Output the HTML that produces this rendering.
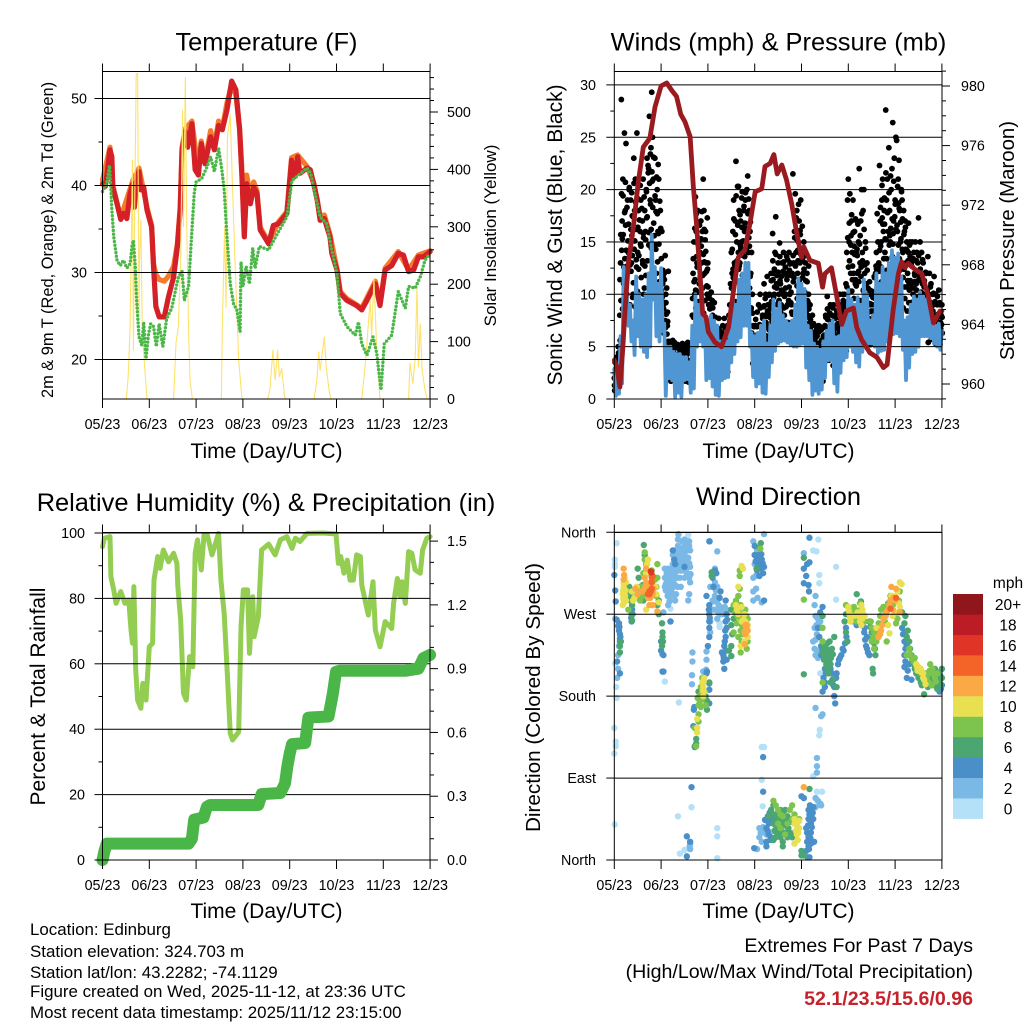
<!DOCTYPE html>
<html lang="en">
<head>
<meta charset="utf-8">
<title>Station meteogram</title>
<style>
html,body{margin:0;padding:0;background:#fff;}
svg{display:block;font-family:"Liberation Sans",Arial,sans-serif;fill:#000;}
.t{font-size:25.4px;text-anchor:middle;}
.a{font-size:21px;text-anchor:middle;}
.s{font-size:16.4px;text-anchor:middle;}
.k{font-size:14.3px;}
.i{font-size:16.9px;}
.r{font-size:19.6px;text-anchor:end;}
</style>
</head>
<body>
<svg id="chart" width="1024" height="1024" viewBox="0 0 1024 1024" xmlns="http://www.w3.org/2000/svg">
<rect x="0" y="0" width="1024" height="1024" fill="#fff"/>

<text class="t" x="266.5" y="50.5">Temperature (F)</text>
<text class="t" x="778.5" y="50.5">Winds (mph) &amp; Pressure (mb)</text>
<text class="t" x="266" y="511">Relative Humidity (%) &amp; Precipitation (in)</text>
<text class="t" x="778.5" y="505">Wind Direction</text>

<g id="p1"></g>
<g id="p2"></g>
<g id="p3"></g>
<g id="p4"></g>

<text class="a" x="266.5" y="458">Time (Day/UTC)</text>
<text class="a" x="778.5" y="458">Time (Day/UTC)</text>
<text class="a" x="266.5" y="918">Time (Day/UTC)</text>
<text class="a" x="778.5" y="918">Time (Day/UTC)</text>

<text class="s" transform="translate(53 240) rotate(-90)">2m &amp; 9m T (Red, Orange) &amp; 2m Td (Green)</text>
<text class="s" style="font-size:17px" transform="translate(496 235.5) rotate(-90)">Solar Insolation (Yellow)</text>
<text class="a" transform="translate(562 235) rotate(-90)">Sonic Wind &amp; Gust (Blue, Black)</text>
<text class="a" style="font-size:20.4px" transform="translate(1014 240.5) rotate(-90)">Station Pressure (Maroon)</text>
<text class="a" transform="translate(45 696.5) rotate(-90)">Percent &amp; Total Rainfall</text>
<text class="a" style="font-size:20.7px" transform="translate(540 697.5) rotate(-90)">Direction (Colored By Speed)</text>

<g id="colorbar">
<text x="1008" y="588" font-size="15.5" text-anchor="middle">mph</text>
</g>

<g>
<text class="i" x="30" y="935">Location: Edinburg</text>
<text class="i" x="30" y="957">Station elevation: 324.703 m</text>
<text class="i" x="30" y="978">Station lat/lon: 43.2282; -74.1129</text>
<text class="i" x="30" y="997">Figure created on Wed, 2025-11-12, at 23:36 UTC</text>
<text class="i" x="30" y="1018">Most recent data timestamp: 2025/11/12 23:15:00</text>
</g>
<g>
<text class="r" x="973" y="952">Extremes For Past 7 Days</text>
<text class="r" x="973" y="978">(High/Low/Max Wind/Total Precipitation)</text>
<text class="r" x="973" y="1005" font-weight="bold" style="fill:#c4232b">52.1/23.5/15.6/0.96</text>
</g>
</svg>

<script>
// ---------- shared tick labels ----------
var dateLabels = ['05/23','06/23','07/23','08/23','09/23','10/23','11/23','12/23'];

// ---------- temperature panel ----------
var tempTicks = [50,40,30,20];
var tempMinorTicks = [45,35,25];
var solarTicks = [0,100,200,300,400,500];
var redTimes = [0,.06,.09,.16,.2,.22,.31,.39,.45,.52,.59,.65,.68,.73,.78,.82,.88,.95,1.05,1.09,1.14,1.21,1.32,1.41,1.52,1.6,1.66,1.7,1.77,1.82,1.91,1.98,2.05,2.11,2.19,2.31,2.39,2.48,2.56,2.66,2.76,2.85,2.93,2.98,3.03,3.08,3.16,3.23,3.3,3.37,3.55,3.65,3.76,3.94,4.04,4.1,4.17,4.22,4.37,4.44,4.52,4.59,4.65,4.74,4.86,4.9,5.01,5.08,5.22,5.43,5.54,5.65,5.83,5.93,6.04,6.18,6.32,6.43,6.54,6.65,6.75,6.86,7];
var redValues = [40.2,39.9,41,44.1,43.3,39.8,37.9,36.1,36.8,36.2,39.1,40.2,37.5,40.6,41.6,39.5,39.8,37.2,35.2,30.7,26.1,24.9,24.9,27.2,29.5,33,37.2,44.1,46.2,44.4,47.1,41.8,41.2,44.8,42.5,45.6,44.1,46.9,46.4,48.7,52,51,46.4,41,34.1,40.2,37.9,39.8,39.1,34.9,33.3,35.4,35.6,36.8,42.9,41,43.3,41.4,42,41.8,40,38.3,36,36.2,34.1,32.2,30.3,27.6,26.8,26.2,25.7,26.8,28.7,26.2,30.3,30.8,32.2,32,30.1,30.3,31.8,31.8,32.4];
var orangeTimes = [0,.16,.22,.39,.65,.78,.95,1.05,1.09,1.14,1.21,1.32,1.41,1.52,1.6,1.66,1.7,1.77,1.91,2.05,2.11,2.19,2.31,2.39,2.48,2.56,2.66,2.76,2.85,2.93,2.98,3.03,3.08,3.16,3.23,3.3,3.37,3.55,3.76,3.94,4.04,4.17,4.37,4.52,4.65,4.74,4.86,5.01,5.08,5.22,5.54,5.83,5.93,6.04,6.32,6.54,6.75,7];
var orangeValues = [40.6,44.4,40,36.3,40.6,42,37.5,35.4,31,29.8,29.2,29,29.6,30.7,33.3,37.5,44.4,46.5,47.4,41.5,45.1,42.8,46.3,44.4,47.4,46.6,49.5,51.6,50.4,46.6,41.6,34.6,41.2,38.8,40.4,39.4,35.2,33.5,35.8,37,43.2,43.5,42.2,40.2,36.5,36.6,34.4,30.4,27.8,27,25.9,29,26.4,30.5,32.4,30.3,32,32.5];
var dewTimes = [0,.09,.15,.18,.2,.24,.31,.38,.45,.52,.59,.63,.66,.7,.73,.78,.84,.88,.93,.98,1.03,1.09,1.15,1.21,1.29,1.37,1.48,1.62,1.7,1.75,1.84,1.89,1.96,2,2.12,2.23,2.31,2.39,2.48,2.55,2.6,2.66,2.73,2.8,2.87,2.94,2.96,3,3.07,3.14,3.21,3.26,3.35,3.55,3.72,3.94,4.05,4.19,4.37,4.45,4.54,4.65,4.79,4.9,5.01,5.08,5.22,5.4,5.47,5.54,5.65,5.78,5.86,5.95,6.02,6.18,6.32,6.47,6.54,6.68,6.79,6.89,7];
var dewValues = [39.3,40.2,42.3,39.5,37.2,34.1,31.4,30.8,31.4,30.5,31,33,33.7,30.7,26.8,22.6,21.6,24.3,20.1,22.8,24.1,23.8,21.5,24.1,21.5,24.7,25.9,29.5,30.1,26.8,28.4,33,39.1,40.4,40.8,42.1,43.3,41.6,44.3,41.8,39.5,34.1,28.7,26.4,25.7,23.2,31.2,28.4,30.7,28.7,32.8,30.5,33,32.6,34.3,36.4,40.6,41.2,42,41.4,39.1,36.4,35.6,32.6,29.9,25.3,23.8,22.8,24.3,21.8,20.5,22.6,20.7,16.5,21.8,22.8,27.8,25.9,28.4,28.2,29.5,31.4,32.2];
var solarTimes = [0,.51,.55,.59,.62,.64,.66,.69,.72,.75,.78,.79,.82,.85,.88,.95,1.52,1.57,1.62,1.67,1.71,1.73,1.77,1.8,1.84,1.87,1.92,2.54,2.56,2.61,2.64,2.67,2.73,2.76,2.83,2.91,2.98,3.53,3.58,3.64,3.69,3.74,3.78,3.83,3.89,3.92,4.52,4.58,4.62,4.65,4.74,4.78,4.84,4.88,5.54,5.63,5.68,5.72,5.75,5.8,5.86,5.93,6.54,6.57,6.63,6.68,6.72,6.75,6.79,6.83,6.89,6.94,7];
var solarValues = [0,0,40,126,300,416,85,350,567,567,150,240,312,120,80,0,0,97,126,242,503,300,560,300,114,33,0,0,126,300,160,457,495,416,242,68,0,0,18,85,33,85,39,53,4,0,0,33,82,50,108,56,16,0,0,74,131,172,108,210,85,0,0,62,27,68,196,56,131,50,16,0,0];

// ---------- winds panel ----------
var windTicks = [0,5,10,15,20,25,30];
var windMinorTicks = [2.5,7.5,12.5,17.5,22.5,27.5];
var pressureTicks = [960,964,968,972,976,980];
var pressureMinorTicks = [959,961,962,963,965,966,967,969,970,971,973,974,975,977,978,979,981];
// sonic wind, sampled every 1/30 day
var sonicValues = [2.8,.3,2.5,.5,6,1.5,12.6,8,10,7,
9,5.5,7.5,4.2,11.7,6,10,5,9.5,4.5,
10,4,12,5,15.7,9.5,12.6,6,11,5.5,
12.5,6.5,7.2,.3,5,2,5,1.8,4.5,.2,
4.3,.6,4.3,.2,4,1.8,4,1.9,3.5,.6,
7,1,10,5,9,5.5,10.7,5,8,1.8,
7.5,2,8,1.2,7.5,.4,7,.3,5.5,1.8,
5.5,2,5.5,2.1,7,3.5,9.5,4.3,9,5.5,
11.4,5.9,12,7,13,7,13,5,6.3,2.1,
6,1.2,6.3,1.5,7,.6,7.5,.5,5.3,2.1,
7,3.5,9.5,4.6,8.5,5.3,9.2,5.5,8,5.6,
7.5,5.4,7.2,5.2,7.5,5,9,5,11.5,5.2,
11,5.3,10.5,3,7,1.8,6.5,.4,5.3,.8,
5,.5,4.7,.9,5.5,2,6.5,3.7,7.2,3.7,
7.5,1.5,5.9,.7,6,2.5,7,3.7,8,4,
10.4,5,9.5,4.5,9,3.5,9.7,3.1,9,4.5,
11.4,5,10,5.3,7.5,5.3,8,5,12,4.4,
11,4.6,12.6,4.7,12,5.5,13,6,14.2,6.2,
13.5,6.3,13.9,6,11.7,4.7,7.5,1.8,7.8,3,
9,4.3,9.8,4.5,9.5,5,10.2,6,9.8,6,
9.5,6,8.5,5.8,7.2,5.3,7,5,7.2,4.7,
6.5];
// gusts, sampled every 1/60 day
var gustValues = [2,3.5,1.5,4,3,5,2.5,8,13,28.6,
17,21,11,25.4,18,24.4,10,19,14,20,
9,19,13,17.5,10,23,18,21,9,25.4,
14,18,10,16,19,8,17,21,10,18,
16,20,23,9,22,27,19,24,29.3,25,
21,10,23,19,12,20,16,21,9,18,
12,16,11,9,12,7.5,10,5,7,5.5,
4,5.5,3,5,4,5.6,3.5,5,4,5.2,
3,5,2.5,4.8,3.5,5,3,4.6,4,5.2,
3,5,3.5,4.8,3,5,2.5,4.4,3.5,5,
8,12,15,10,19.3,16,13,18,15,11,
14,17,13,16,21,18,12,16,13,10,
13,9,10,7,9,6,8,5,7,4,
6,3.5,5,3,7.7,4,6,3,5,7,
4,7.7,3.5,6,4,7,5,8,9,11,
14,12,16,19,13,17,22.7,15,20.3,14,
18,13,17,15,19.8,14,18,16,19,15,
20,21.3,14,18,16,12,14,10,7,5.5,
5,7,4,6.9,5,9,6,10,7,5,
8,6,11,8,10,7,11.7,9,6,10,
8,12,9,15.8,12,10,14,17.4,11,9,
13,10,14.9,11,9,13,10,14,8,12,
10,13.6,9,12,14,10,13,9,12,21.5,
13,16,19.6,14,18,12,15,17,13,19,
14,16.5,12,15,10,13,9,12,8,10,
6,9,7,5,8,6,4,7,5,3,
6,4,7,3,6.9,5,3,5,6,4,
7,8,5,9.8,6,8,5,9,6,8,
5,9,6,8,4,7,6,9,5,10,
6,9,7,10,6,10,8,11,14,19,
21,15,19.6,12,17,14,19,12,16,11,
14,17,12,15,22,13,17,20,14,18,
20,12,15,11,13,9,10,7,9,10,
7,9,6,8,10,12,14,17.7,15,13,
22.3,17,15,19,21,16,18,14,27.6,19,
21,16,24,18,15,20,22,26.4,17,23,
19,25,24.7,16,21,22.8,18,15,20,19,
14,18,16,17,13,15,12,14,11,15,
11,13,15,10,14,12,15,11,14,13,
17.3,12,15,10,14,11,13,9,12,10,
12,9,13.6,10,12,9,11,8,10,9,
11.7,8,10,7,9,8,10.4,7,9,8,
9];
// second set of gust readings, same 1/60 day spacing, offset by half a step
var gustBackfillValues = [.8,2.4,1.2,3.2,.6,4.4,1.8,5.6,9.4,14.2,
8.6,15.7,11.3,13.4,16.6,9.2,12.7,15.1,8.3,13.8,
7.4,12.2,15.6,9.7,11.1,14.3,8.8,16.2,12.6,10.3,
7.9,13.7,9.1,14.8,11.6,8.2,12.9,15.4,10.6,7.7,
11.8,17.3,13.2,21.6,15.9,10.7,18.6,14.4,20.8,12.3,
16.8,9.6,14.7,17.9,8.4,13.1,15.8,11.2,9.3,16.3,
10.4,7.2,11.7,6.3,9.2,6.8,8.1,6.2,7.4,5.2,
2.6,4.7,1.7,3.8,2.9,4.3,1.9,4.9,3.3,2.2,
4.1,2.7,3.6,1.6,4.4,2.4,3.9,1.8,4.6,2.9,
3.4,1.7,4.2,2.8,3.7,1.6,4.5,2.3,3.1,1.9,
4.3,7.8,5.6,11.4,8.7,13.6,6.4,10.2,12.7,7.1,
9.3,14.6,6.7,11.8,8.2,13.1,15.2,7.6,10.8,12.4,
9.7,5.4,8.6,4.3,7.3,9.4,5.8,6.7,4.4,7.8,
3.3,5.7,2.4,6.2,3.8,4.9,2.2,6.4,3.1,5.3,
2.7,6.1,4.2,3.3,5.6,2.6,6.3,3.7,4.8,6.6,
8.4,6.3,11.6,7.7,12.8,9.3,6.8,11.2,8.6,12.4,
7.6,14.7,10.3,16.4,8.9,13.7,11.4,16.8,9.6,14.2,
12.3,7.8,15.4,10.6,16.9,8.7,6.2,3.4,5.3,4.2,
3.2,5.4,3.7,4.6,5.8,3.4,4.9,5.2,3.8,4.4,
6.2,8.8,5.4,9.6,7.3,5.7,8.4,9.9,6.6,7.8,
5.6,9.3,7.2,11.4,6.3,10.7,8.1,5.4,11.8,7.6,
9.2,5.8,11.3,7.4,10.4,6.2,12.2,8.7,5.7,10.6,
7.3,11.7,5.6,9.4,12.3,6.7,10.2,8.3,5.4,11.2,
8.2,12.8,7.4,15.3,9.6,13.2,7.8,11.4,15.7,10.3,
8.4,11.6,6.7,10.2,7.7,11.3,6.2,9.4,7.2,8.6,
5.2,7.6,3.3,6.4,2.4,7.2,4.3,5.8,2.7,6.6,
3.4,5.3,1.8,4.7,2.6,5.6,3.2,1.7,4.2,5.4,
3.6,6.8,4.4,7.6,5.3,3.7,6.2,7.4,4.6,5.7,
3.2,6.6,7.8,4.3,5.4,3.6,7.2,4.8,6.3,7.7,
4.7,8.3,6.2,9.4,5.3,7.8,9.2,4.6,8.6,6.7,
9.4,13.2,7.4,15.6,10.3,12.7,8.2,14.6,7.6,11.4,
6.3,13.7,8.4,11.2,14.8,7.3,12.6,9.4,6.7,10.3,
5.7,8.6,10.7,6.3,9.2,5.4,7.7,10.4,5.2,8.4,
6.6,9.7,5.3,11.6,7.8,12.7,8.6,10.3,6.4,12.2,
8.7,14.6,11.2,17.3,9.8,13.4,16.7,10.6,15.2,12.3,
17.8,9.4,14.7,11.3,16.3,8.6,13.6,15.8,10.2,17.4,
12.7,9.3,16.6,11.8,18.7,13.4,9.7,15.3,11.6,17.2,
8.7,12.4,9.6,14.3,10.7,8.4,13.2,9.2,14.7,11.3,
7.8,10.6,6.4,9.3,11.2,6.8,8.7,10.4,7.3,9.6,
6.4,11.7,8.3,10.2,6.7,9.4,7.6,11.3,6.2,8.8,
7.2,9.7,5.4,8.6,6.3,9.2,5.7,7.8,8.4,6.2,
7.4,5.3,6.8,7.7,5.6,6.2,7.3,5.2,6.7,7.1,
6.3];
// third set of gust readings, same spacing, offset by a quarter step
var gustUpperValues = [1.3,2.8,1.7,3.6,2.4,3.9,2.1,11.4,15.7,19.6,
15.3,19.4,12.6,17.8,20.7,14.2,18.3,13.4,16.7,20.2,
12.8,16.2,19.7,13.7,17.4,20.6,15.1,18.8,13.3,19.2,
16.4,12.4,17.1,20.4,14.6,18.2,13.2,15.8,19.3,12.7,
15.2,19.8,17.4,22.3,14.7,20.6,23.4,16.2,21.7,18.3,
23.1,15.6,19.4,14.3,21.2,17.7,22.4,14.8,18.9,16.1,
13.4,9.7,12.3,8.6,11.4,13.7,9.2,10.6,8.3,12.2,
4.2,5.3,3.4,4.7,5.1,3.6,4.4,5.4,3.2,4.9,
3.8,5.2,4.3,3.3,5,3.7,4.6,5.3,3.9,4.1,
5.2,3.4,4.8,3.6,5.4,4.4,3.1,4.9,3.7,5.1,
9.6,13.4,11.2,16.3,10.4,17.7,12.6,14.8,9.3,16.6,
11.7,15.3,17.9,10.6,13.8,16.2,9.4,14.1,12.2,17.3,
10.7,7.4,9.6,6.3,10.2,7.8,8.7,6.6,9.2,6.2,
4.6,6.3,3.7,5.2,6.7,4.1,5.6,3.8,6.1,4.8,
5.4,3.6,6.8,4.7,3.9,6.4,5.1,6.9,4.3,5.8,
10.6,14.3,12.4,17.2,11.3,15.7,19.4,13.2,16.6,20.3,
12.7,17.6,14.4,19.2,11.8,15.1,18.4,13.6,19.7,16.3,
12.2,17.7,19.1,14.6,11.7,8.6,6.3,8.2,5.7,6.9,
4.7,7.6,5.4,8.3,6.2,4.4,7.1,8.7,5.6,6.8,
7.7,4.8,8.9,6.1,5.2,7.9,4.6,8.2,6.7,5.3,
8.6,11.3,7.4,13.2,9.7,12.4,8.2,13.8,10.6,7.7,
12.1,9.4,13.6,8.3,11.7,7.6,10.2,13.1,9.8,12.6,
8.8,11.4,13.3,7.3,10.7,12.9,9.2,11.8,8.1,13.7,
11.6,15.4,12.7,17.3,10.8,14.2,18.6,11.3,16.1,13.8,
9.6,13.3,8.7,12.4,10.2,13.7,8.4,11.2,9.3,12.7,
4.3,6.7,3.6,5.8,7.1,4.7,6.2,3.3,5.4,6.9,
3.7,5.2,6.4,4.1,3.2,6.6,4.8,5.7,3.4,6.1,
4.6,7.8,5.7,8.6,4.3,6.9,8.2,5.2,7.3,4.9,
8.7,6.4,4.4,7.7,5.6,8.4,4.8,6.7,8.9,5.3,
7.2,8.6,4.6,6.3,8.8,5.7,7.6,9.2,10.7,15.4,
12.6,16.8,10.3,14.7,17.6,11.4,15.9,9.6,13.8,17.2,
10.8,14.3,16.7,12.2,9.4,15.6,11.7,17.7,13.2,10.4,
16.2,12.8,14.4,9.7,12.3,10.6,8.3,11.2,9.1,7.6,
10.3,6.8,8.4,11.7,9.6,7.3,12.4,10.2,8.7,6.6,
14.2,18.3,12.6,20.4,16.7,11.8,19.2,15.3,21.6,13.4,
17.8,12.2,19.7,15.6,21.3,11.6,17.2,14.8,20.8,13.1,
18.6,16.2,11.4,20.3,14.7,18.2,12.3,16.9,19.8,14.3,
11.6,15.7,10.7,16.4,12.8,14.2,11.3,16.8,10.4,13.6,
9.2,12.7,8.4,13.4,10.6,11.8,8.8,13.2,9.7,11.3,
13.7,9.4,12.4,8.6,11.2,13.3,9.8,10.7,8.2,12.1,
7.6,10.3,6.7,9.4,8.2,10.7,6.3,8.9,7.4,10.1,
6.6,9.3,7.7,6.2,9.8,8.1,6.9,9.2,7.3,6.4,
7.8];
var pressureTimes = [0,.05,.12,.18,.23,.3,.41,.51,.62,.76,.87,1,1.12,1.23,1.33,1.42,1.51,1.62,1.69,1.76,1.83,1.89,1.96,2.01,2.15,2.29,2.44,2.54,2.65,2.79,2.9,3.01,3.15,3.22,3.33,3.41,3.48,3.58,3.68,3.79,3.9,4,4.05,4.18,4.36,4.45,4.5,4.64,4.74,4.86,4.96,5.11,5.18,5.28,5.46,5.61,5.75,5.83,5.96,6.07,6.14,6.21,6.28,6.42,6.57,6.71,6.82,6.96,7];
var pressureValues = [961.6,961.2,959.8,962.3,965,968.1,970.6,973.5,975.9,976.5,978.6,980,980.2,979.7,979.3,978.1,977.6,976.6,973.2,970.6,967.4,964.7,964.5,963.5,962.8,962.5,963.8,966.1,968.5,969,970.8,972.9,973.1,974.6,974.8,975.4,974.1,974.7,973.7,972.1,970.1,968.5,969.2,968.3,968.1,966.5,967.4,967.8,966.1,964,964.9,965.1,963.8,963,962.1,961.8,961.1,961.3,965,967.4,968.2,967.8,968.1,967.7,967.4,965.9,964.1,964.9,964.9];

// ---------- humidity panel ----------
var humidityTicks = [0,20,40,60,80,100];
var humidityMinorTicks = [10,30,50,70,90];
var rainTicks = [0,.3,.6,.9,1.2,1.5];
var rainMinorTicks = [.1,.2,.4,.5,.7,.8,1,1.1,1.3,1.4];
var humidityTimes = [0,.04,.16,.18,.24,.29,.39,.48,.56,.61,.64,.67,.71,.75,.82,.86,.93,1,1.07,1.1,1.18,1.23,1.3,1.41,1.52,1.59,1.61,1.67,1.73,1.79,1.86,1.93,1.98,2.03,2.11,2.17,2.24,2.34,2.48,2.53,2.6,2.67,2.73,2.78,2.91,2.96,3.01,3.1,3.14,3.21,3.24,3.33,3.4,3.55,3.69,3.8,3.94,4.05,4.12,4.22,4.37,4.72,4.99,5.04,5.09,5.16,5.23,5.29,5.36,5.43,5.51,5.54,5.61,5.68,5.78,5.83,5.93,6.04,6.18,6.22,6.3,6.36,6.4,6.47,6.54,6.61,6.68,6.79,6.84,6.93,7];
var humidityValues = [95.8,98.4,98.9,86.6,82.6,78.5,82.1,78.5,79.5,70.3,66.3,83.6,58.1,48.9,46.4,54,48.9,65.2,66.3,85.6,92.8,89.2,94.8,91.2,93.8,90.7,83.6,73.4,51,48.9,62.2,59.1,93.8,97.9,88.7,99.4,99.4,93.3,99.9,85.6,75.4,56.1,38.7,36.7,39.2,71.4,82.6,82.6,63.2,80.5,68.3,74.4,94.8,96.6,93.3,97.9,98.9,95.3,98.4,97.4,99.9,100,99.7,90.7,92.8,87.7,91.7,85.6,85.6,93.3,92.8,84.1,79.5,74.9,85.1,70.3,65.2,72.9,70.8,78.5,86.1,80.5,85.1,78.5,94.3,93.8,88.7,87.7,94.8,98.4,98.9];
var rainTimes = [0,.04,.09,1.84,1.91,1.96,2.16,2.23,2.3,3.33,3.4,3.8,3.9,3.95,4,4.05,4.33,4.4,4.83,4.92,4.99,5.06,6.47,6.75,6.86,7];
var rainValues = [0,.04,.077,.077,.1,.19,.2,.25,.259,.259,.31,.315,.36,.44,.5,.545,.55,.67,.675,.78,.885,.89,.89,.9,.95,.965];

// ---------- direction panel ----------
var directionLabels = ['North','West','South','East','North'];
var directionTicks = [360,270,180,90,0];
var speedLabels = ['0','2','4','6','8','10','12','14','16','18','20+'];
var speedColors = ['#b4e1f8','#7ab8e5','#4a8fc8','#4ba672','#7cc44e','#e8e050','#faa945','#f46428','#e03427','#bb1c26','#8f161a'];
var dirSpeed0 = [[.05,348],[.01,330],[.01,322],[.01,325],[.02,216],[.04,190],[.05,178],[0,145],[.03,130],[.03,125],[0,117],[.01,39],[1.08,196],[1.2,276],[1.37,356],[1.58,357],[1.38,173],[1.36,48],[1.65,58],[1.4,7],[1.5,11],[2.2,35],[2.2,26],[2.2,2],[2.25,256],[2.25,260],[3.2,124],[3.15,124],[3.15,88],[3.17,59],[4.36,352],[4.32,339],[4.25,340],[4.38,313],[4.38,304],[4.74,286],[4.74,322],[4.4,205],[4.39,143],[4.38,137],[4.25,92],[4.33,75],[4.44,75]];
var dirSpeed2 = [[1.08,300],[1.08,310],[1.08,320],[1.1,296],[1.12,305],[1.12,315],[1.14,290],[1.15,300],[1.15,312],[1.15,320],[1.18,284],[1.18,296],[1.18,306],[1.2,290],[1.2,300],[1.2,312],[1.22,296],[1.22,308],[1.22,320],[1.25,300],[1.25,312],[1.25,325],[1.25,335],[1.28,310],[1.28,322],[1.28,335],[1.3,302],[1.3,315],[1.3,328],[1.3,340],[1.33,310],[1.33,322],[1.33,335],[1.35,300],[1.35,318],[1.35,330],[1.36,345],[1.36,352],[1.37,358],[1.4,325],[1.4,335],[1.4,310],[1.42,300],[1.42,322],[1.45,318],[1.45,330],[1.45,342],[1.45,350],[1.5,310],[1.5,322],[1.5,335],[1.5,345],[1.5,352],[1.55,315],[1.55,328],[1.55,340],[1.55,350],[1.58,322],[1.58,332],[1.6,310],[1.62,305],[1.62,322],[1.62,340],[1.6,345],[1.6,350],[1.18,290],[1.05,272],[1.2,262],[1.15,280],[1.28,290],[1.3,285],[1.32,292],[1.6,292],[1.58,285],
[1.67,228],[1.67,218],[1.66,203],[1.66,193],[1.97,229],[1.97,220],[1.96,209],[1.9,207],[2.04,350],[2.2,339],[2.05,300],[2.1,285],[2.12,275],[2.15,320],[2.15,305],[2.15,290],[2.2,300],[2.2,285],[2.25,278],[2.3,276],[2.35,272],[2.4,275],[2.2,265],[2.22,272],[2.28,270],[2.05,262],[2.05,250],[2.97,350],[3.05,340],[3,335],[3,325],[2.97,310],[2.97,295],[2.97,285],[3.15,283],[3.2,358],[4.3,290],[4.28,280],[4.3,268],[4.35,265],[4.4,270],[4.28,255],[4.38,255],[4.3,242],[4.25,240],[4.3,225],[4.35,222],[4.35,230],[4.3,167],[4.42,158],[4.45,160],[4.33,112],[4.33,103],[4.33,96],[1.62,18],[1.61,15],[1.62,12],[4.35,65],[4.4,62],[4.42,60],[4.3,68],[4.3,58],[3.1,35],[3.1,25],[3.2,30],[3.25,28],[3.15,20],[3.05,12],[4.05,337],[.02,265],[.08,225],[.1,235],[.08,210],[.06,200],
[1.1,303],[1.13,298],[1.17,302],[1.19,315],[1.21,304],[1.24,318],[1.26,306],[1.29,328],[1.31,310],[1.34,326],[1.38,338],[1.41,318],[1.43,328],[1.47,336],[1.48,325],[1.52,330],[1.53,318],[1.57,345],[1.6,326],[1.63,314],[2.13,284],[2.17,296],[2.23,280],[2.27,272],[2.32,270],[2.36,278],[2.18,275],[3.02,312],[3.03,298],[3.06,288],[4.32,258],[4.33,248],[4.37,260],[4.4,262],[4.28,232],[3.13,30],[3.18,36]];
var dirSpeed4 = [[.1,260],[.1,252],[.12,248],[.12,243],[.12,240],[.12,205],[.06,218],[0,313],[.02,296],[.03,284],[.05,264],[.08,257],[.37,270],[.37,262],[.38,275],[1,230],[1.03,226],[1.05,225],[1.03,207],[1.05,207],[1,240],[1.2,262],[1.3,325],[1.28,330],[1.25,340],[1.5,322],[1.7,165],[1.72,124],[1.69,147],[1.71,168],[1.65,80],[1.55,26],[1.62,20],[1.55,4],[1.98,207],[1.97,205],[2.03,194],[2.03,187],[2.03,172],[2.03,350],[1.97,290],[2.03,280],[2.03,270],[2.03,262],[2.03,255],[2.03,245],[2,235],[2.15,318],[2.18,315],[2.1,310],[2.12,300],[2.27,295],[2.25,288],[2.38,285],[2.4,270],[2.38,262],[2.4,255],[2.38,245],[2.35,235],[2.33,225],[2.33,218],[2.35,210],[2.3,228],[2.4,220],[3,335],[3.05,330],[3.1,325],[3.15,330],[3.2,322],[3.18,315],[3.05,318],[3.1,312],[3,345],[3.2,285],[3.18,113],[3.18,75],[3.25,35],[3.3,40],[3.3,28],[3.35,45],[3.35,25],[3.25,20],[3.32,52],[3.25,15],[2.99,13],[4,70],[4.05,68],[4.15,55],[4.18,60],[4.22,50],[4.25,58],[4.25,45],[4.15,45],[4.1,35],[4.12,30],[4.15,25],[4.12,20],[4.15,15],[4.1,10],[4.13,3],[4.17,3],[4.2,18],[4.27,20],[4.2,40],[4.2,30],[4.05,304],[4.15,302],[4.16,295],[4.1,312],[4.12,325],[4.17,327],[4.05,320],[4.17,354],[4.4,272],[4.45,278],[4.35,255],[4.38,245],[4.42,235],[4.42,225],[4.45,230],[4.5,210],[4.55,215],[4.6,220],[4.65,205],[4.68,192],[4.7,180],[4.72,172],[4.75,205],[4.78,215],[4.8,220],[4.85,225],[4.9,230],[4.5,190],[4.45,185],[4.5,195],[4.95,255],[4.96,245],[4.93,238],[5.12,275],[5.12,262],[5.18,258],[5.3,262],[5.35,255],[5.4,245],[5.38,235],[5.42,228],[5.45,225],[6.15,255],[6.2,250],[6.2,240],[6.25,235],[6.2,225],[6.2,212],[6.25,200],[6.3,215],[6.35,198],[6.9,190],[6.95,195],[7,192],[6.95,185],
[.11,256],[.13,245],[.36,266],[.39,270],[2.02,275],[2.04,266],[2.36,240],[2.37,252],[2.39,230],[2.34,222],[2.41,264],[3.02,328],[3.07,324],[3.12,320],[3.14,336],[3.17,326],[3.08,335],[3.22,44],[3.28,32],[3.33,22],[3.28,48],[4.17,50],[4.14,38],[4.19,24],[4.22,36],[4.16,12],[4.24,52],[4.52,205],[4.58,212],[4.62,210],[4.66,198],[4.7,190],[4.82,222],[4.74,200],[4.88,232],[4.47,200],[5.14,268],[5.34,250],[5.36,242],[5.4,232],[6.17,248],[6.22,232],[6.22,218],[6.27,208],[6.93,192],[6.98,188]];
var dirSpeed6 = [[.12,228],[.12,235],[.14,240],[.3,290],[.32,300],[.35,285],[.38,280],[.38,270],[.38,263],[.5,290],[.55,300],[.6,295],[.62,285],[.52,310],[.5,320],[.65,335],[.63,346],[.95,285],[.92,280],[.95,270],[1.02,260],[1.03,250],[1.03,245],[1.04,240],[1.02,235],[1.75,133],[1.75,128],[1.72,125],[1.8,185],[1.95,180],[1.98,175],[1.98,165],[2.03,195],[2.08,316],[2.08,312],[2.5,275],[2.55,265],[2.5,258],[2.52,248],[2.5,235],[2.45,230],[2.6,283],[2.5,224],[3.13,348],[3.1,343],[3.04,320],[3.3,48],[3.35,55],[3.4,60],[3.4,40],[3.45,45],[3.5,35],[3.5,50],[3.55,42],[3.6,30],[3.6,45],[3.55,25],[3.65,38],[3.7,48],[3.75,30],[3.7,25],[3.45,25],[3.4,22],[3.6,20],[3.6,15],[3.8,25],[3.85,30],[4,5],[4,10],[4.05,5],[3.65,55],[3.55,55],[3.6,50],[3.65,30],[3.5,28],[3.45,38],[4.17,78],[4.05,332],[4.05,204],[4.45,240],[4.45,228],[4.48,220],[4.5,232],[4.52,225],[4.55,220],[4.55,238],[4.55,210],[4.58,205],[4.6,225],[4.62,215],[4.6,240],[4.65,232],[4.7,245],[4.75,190],[4.68,198],[4.62,195],[4.45,268],[4.92,262],[4.95,250],[4.98,240],[4.95,270],[5.18,292],[5.27,284],[5.45,262],[5.5,250],[5.55,238],[5.58,225],[5.52,210],[5.53,205],[6.15,272],[6.2,260],[6.25,245],[6.3,240],[6.35,225],[6.4,215],[6.45,205],[6.5,200],[6.55,195],[6.6,195],[6.62,182],[6.7,190],[6.75,195],[6.8,205],[6.85,210],[6.9,200],[6.95,198],[7,210],[7,200],[6.98,192],[6.9,188],
[.33,292],[.37,288],[.53,296],[.57,292],[.61,302],[3.42,50],[3.47,42],[3.52,44],[3.57,36],[3.62,40],[3.67,46],[3.72,35],[3.77,42],[3.48,30],[3.58,28],[3.42,32],[4.47,235],[4.5,222],[4.53,232],[4.57,228],[4.6,212],[4.63,222],[4.67,226],[4.53,215],[6.22,268],[6.27,252],[6.32,232],[6.37,218],[6.42,210],[6.52,204],[6.57,192],[6.72,198],[6.78,200],[6.82,192],[6.88,196],[6.92,206],[6.97,202],[5.47,256],[5.52,244],[5.57,232]];
var dirSpeed8 = [[.4,285],[.45,295],[.55,285],[.62,300],[.65,330],[.65,338],[.68,325],[.72,315],[.8,318],[.85,300],[.9,300],[.9,290],[.92,310],[.92,325],[.62,315],[.3,275],[.27,295],[1.78,178],[1.8,170],[1.82,172],[1.8,160],[1.8,152],[1.72,145],[1.9,178],[1.85,182],[1.85,190],[1.88,200],[1.95,170],[1.75,125],[2.55,280],[2.6,285],[2.65,290],[2.7,280],[2.75,270],[2.62,260],[2.7,252],[2.65,245],[2.72,240],[2.8,255],[2.7,265],[2.8,275],[2.85,265],[2.7,228],[2.85,240],[2.83,232],[2.55,250],[2.68,298],[2.68,318],[2.68,312],[3.12,342],[3.4,65],[3.45,60],[3.5,55],[3.55,50],[3.5,40],[3.55,35],[3.6,48],[3.7,40],[3.8,45],[3.85,50],[3.95,45],[3.75,55],[3.65,28],[3.8,60],[4.05,286],[4.45,195],[4.45,255],[4.45,240],[4.95,280],[5,278],[5.02,270],[5.05,265],[5.1,275],[5.15,270],[5.2,265],[5.25,282],[5.3,270],[5.35,262],[5.48,262],[5.5,255],[5.55,250],[5.5,240],[5.55,232],[5.6,240],[5.65,260],[5.7,275],[5.75,278],[5.8,270],[5.9,290],[5.95,280],[6,270],[6.05,265],[5.82,240],[6.1,295],[6.08,285],[6.02,260],[6.25,225],[6.3,232],[6.35,222],[6.4,218],[6.45,215],[6.5,210],[6.55,205],[6.6,200],[6.65,205],[6.7,205],[6.72,195],[6.75,215],[6.8,210],[6.85,200],[6.9,205],[6.78,192],
[.47,290],[.52,288],[.57,300],[.6,290],[.67,296],[.82,302],[.87,308],[1.83,175],[1.85,168],[1.87,176],[2.58,272],[2.63,268],[2.67,276],[2.73,258],[2.77,262],[2.82,268],[2.75,248],[5.07,272],[5.12,278],[5.17,262],[5.22,274],[5.32,262],[5.53,244],[5.58,248],[5.62,252],[5.68,268],[5.78,262],[5.85,282],[6.32,226],[6.42,222],[6.52,208],[6.62,204],[6.68,200],[6.74,208],[6.82,204],[6.87,196]];
var dirSpeed10 = [[.2,300],[.2,290],[.2,282],[.18,292],[.22,310],[.25,305],[.22,295],[.18,280],[.25,285],[.38,295],[.4,285],[.43,288],[.48,300],[.72,330],[.7,325],[.68,315],[.88,300],[.9,292],[.68,275],[.95,283],[1.88,195],[1.9,190],[1.92,200],[1.92,185],[1.9,180],[1.77,155],[1.77,145],[1.77,140],[2.6,280],[2.65,270],[2.72,278],[2.78,270],[2.8,262],[2.85,258],[2.82,250],[2.62,275],[2.72,262],[2.78,240],[2.85,245],[2.7,235],[2.75,320],[2.65,300],[2.72,323],[3.85,40],[3.9,38],[3.95,35],[3.9,28],[3.92,22],[3.85,18],[3.95,43],[3.85,45],[4.05,80],[5,278],[5.03,270],[5.05,262],[5.2,272],[5.25,268],[5.3,265],[5.3,275],[5.35,268],[5.28,258],[5.25,262],[5.12,268],[5.28,280],[5.6,255],[5.65,245],[5.88,249],[5.92,290],[5.95,290],[6,285],[6.05,295],[6.1,305],[6.14,303],[6.08,282],[6.1,278],[6.05,272],[5.95,268],[5.85,258],[6.45,215],[6.5,212],[6.55,210],[6.6,205],[6.62,198],[6.65,193],[6.48,208],
[.19,287],[.21,298],[.23,290],[.2,304],[.24,296],[.19,296],[1.89,186],[1.91,196],[2.76,264],[2.83,254],[3.88,32],[3.93,30],[5.01,274],[5.04,266],[5.22,268],[5.27,272],[5.32,270],[6.47,212],[6.52,208],[6.57,206],[6.6,200]];
var dirSpeed12 = [[.2,320],[.21,313],[.2,308],[.45,298],[.5,292],[.58,295],[.65,310],[.68,320],[.68,305],[.72,288],[.75,300],[.78,305],[.82,292],[.82,280],[.72,298],[.75,280],[.92,273],[2.8,258],[2.82,255],[2.85,252],[2.78,250],[2.8,248],[2.79,237],[4.05,80],[5.64,245],[5.7,252],[5.72,258],[5.75,265],[5.8,268],[5.85,275],[5.9,285],[5.95,275],[5.92,300],[6.02,298],[6,285],[6.1,272],[5.68,248],
[.62,296],[.66,300],[.7,294],[.74,304],[.77,288],[.84,298],[2.83,258],[2.8,252],[5.82,272],[5.88,280],[5.97,288]];
var dirSpeed14 = [[.72,292],[.75,295],[.78,295],[.8,298],[.8,305],[.8,310],[.75,292],[.82,312],[5.9,276],[6.02,288]];
var dirSpeed16 = [[.78,317],[.79,316]];

// ---------- helpers ----------
var svgNS = 'http://www.w3.org/2000/svg';
function make(parent, tag, attrs, text) {
  var el = document.createElementNS(svgNS, tag);
  for (var k in attrs) { el.setAttribute(k, attrs[k]); }
  if (text !== undefined) { el.textContent = text; }
  parent.appendChild(el);
  return el;
}
function pathFrom(times, values, xFn, yFn) {
  var d = '';
  for (var i = 0; i < values.length; i++) {
    d += (i ? 'L' : 'M') + xFn(times[i]).toFixed(2) + ' ' + yFn(values[i]).toFixed(2);
  }
  return d;
}
function uniformPath(values, step, xFn, yFn) {
  var d = '';
  for (var i = 0; i < values.length; i++) {
    d += (i ? 'L' : 'M') + xFn(i * step).toFixed(2) + ' ' + yFn(values[i]).toFixed(2);
  }
  return d;
}
function drawLine(parent, d, color, width, dash) {
  var attrs = {d: d, fill: 'none', stroke: color, 'stroke-width': width, 'stroke-linejoin': 'round', 'stroke-linecap': 'round'};
  if (dash) { attrs['stroke-dasharray'] = dash; }
  return make(parent, 'path', attrs);
}
function drawFrame(parent, L, R, T, B) {
  var frame = make(parent, 'rect', {x: L, y: T, width: R - L, height: B - T, fill: 'none', stroke: '#000', 'stroke-width': 1});
  
  
}
function drawXAxis(parent, L, T, B, xFn, labelY) {
  for (var i = 0; i < dateLabels.length; i++) {
    var x = xFn(i);
    var bottomTick = make(parent, 'line', {x1: x, x2: x, y1: B, y2: B + 9, stroke: '#000', 'stroke-width': 1});
    
    
    var topTick = make(parent, 'line', {x1: x, x2: x, y1: T, y2: T - 8, stroke: '#000', 'stroke-width': 1});
    
    
    var label = make(parent, 'text', {x: x, y: labelY, 'class': 'k', 'text-anchor': 'middle'}, dateLabels[i]);
    
    
  }
}
function drawLeftTicks(parent, L, ticks, minor, yFn, labelX, labels) {
  for (var i = 0; i < ticks.length; i++) {
    var y = yFn(ticks[i]);
    var tick = make(parent, 'line', {x1: L - 8, x2: L, y1: y, y2: y, stroke: '#000', 'stroke-width': 1});
    
    
    var label = make(parent, 'text', {x: labelX, y: y + 5, 'class': 'k', 'text-anchor': 'end'}, labels ? labels[i] : String(ticks[i]));
    
    
  }
  for (var j = 0; j < minor.length; j++) {
    var my = yFn(minor[j]);
    var minorTick = make(parent, 'line', {x1: L - 4, x2: L, y1: my, y2: my, stroke: '#000', 'stroke-width': 1});
    
    
  }
}
function drawRightTicks(parent, R, ticks, minor, yFn, labelX, fmt) {
  for (var i = 0; i < ticks.length; i++) {
    var y = yFn(ticks[i]);
    var tick = make(parent, 'line', {x1: R, x2: R + 8, y1: y, y2: y, stroke: '#000', 'stroke-width': 1});
    
    
    var label = make(parent, 'text', {x: labelX, y: y + 5, 'class': 'k'}, fmt ? fmt(ticks[i]) : String(ticks[i]));
    
    
  }
  for (var j = 0; j < minor.length; j++) {
    var my = yFn(minor[j]);
    var minorTick = make(parent, 'line', {x1: R, x2: R + 4, y1: my, y2: my, stroke: '#000', 'stroke-width': 1});
    
    
  }
}
function drawGrid(parent, L, R, ticks, yFn) {
  for (var i = 0; i < ticks.length; i++) {
    var y = yFn(ticks[i]);
    var grid = make(parent, 'line', {x1: L, x2: R, y1: y, y2: y, stroke: '#000', 'stroke-width': 1});
    
    
  }
}

// ---------- scales ----------
var leftX = function (t) { return 102.5 + t * 46.8; };
var rightX = function (t) { return 614.3 + t * 46.8; };
var tempY = function (v) { return 98.5 + (50 - v) * 8.7; };
var solarY = function (v) { return 399 - v * 0.574; };
var windY = function (v) { return 399 - v * 10.47; };
var pressureY = function (v) { return 86 + (980 - v) * 14.9; };
var humidityY = function (v) { return 860 - v * 3.27; };
var rainY = function (v) { return 860 - v * 212.6; };
var directionY = function (v) { return 860 - v * 0.9104; };

// ---------- panel 1 ----------
var p1 = document.getElementById('p1');
var orangeLine = drawLine(p1, pathFrom(orangeTimes, orangeValues, leftX, tempY), '#f47b2e', 5.2);


var redLine = drawLine(p1, pathFrom(redTimes, redValues, leftX, tempY), '#d42027', 5.2);


var solarLine = drawLine(p1, pathFrom(solarTimes, solarValues, leftX, solarY), '#fde26b', 1.1);


var dewLine = drawLine(p1, pathFrom(dewTimes, dewValues, leftX, tempY), '#4bb748', 3.4, '0 3.7');


drawGrid(p1, 102.5, 430, tempTicks, tempY);
drawFrame(p1, 102.5, 430, 71.5, 399);
drawXAxis(p1, 102.5, 71.5, 399, leftX, 429);
drawLeftTicks(p1, 102.5, tempTicks, tempMinorTicks, tempY, 87);
drawRightTicks(p1, 430, solarTicks, [20,40,60,80,120,140,160,180,220,240,260,280,320,340,360,380,420,440,460,480,520,540,560], solarY, 447);

// ---------- panel 2 ----------
var p2 = document.getElementById('p2');
for (var f = 0; f < gustBackfillValues.length; f++) {
  var backfillDot = make(p2, 'circle', {cx: rightX((f + 0.5) / 60).toFixed(2), cy: windY(gustBackfillValues[f]).toFixed(2), r: 2.9, fill: '#000'});
  
  
}
for (var u = 0; u < gustUpperValues.length; u++) {
  var upperDot = make(p2, 'circle', {cx: rightX((u + 0.25) / 60).toFixed(2), cy: windY(gustUpperValues[u]).toFixed(2), r: 2.9, fill: '#000'});
  
  
}
for (var g = 0; g < gustValues.length; g++) {
  var gustDot = make(p2, 'circle', {cx: rightX(g / 60).toFixed(2), cy: windY(gustValues[g]).toFixed(2), r: 2.9, fill: '#000'});
  
  
}
var sonicLine = drawLine(p2, uniformPath(sonicValues, 1 / 30, rightX, windY), '#4f96d2', 3.8);


drawGrid(p2, 614.3, 942, windTicks, windY);
var pressureLine = drawLine(p2, pathFrom(pressureTimes, pressureValues, rightX, pressureY), '#9a1b1f', 4.8);


drawFrame(p2, 614.3, 942, 71.5, 399);
drawXAxis(p2, 614.3, 71.5, 399, rightX, 429);
drawLeftTicks(p2, 614.3, windTicks, windMinorTicks, windY, 596);
drawRightTicks(p2, 942, pressureTicks, pressureMinorTicks, pressureY, 961);

// ---------- panel 3 ----------
var p3 = document.getElementById('p3');
var humidityLine = drawLine(p3, pathFrom(humidityTimes, humidityValues, leftX, humidityY), '#93cd52', 5);


drawGrid(p3, 102.5, 430, humidityTicks, humidityY);
var rainLine = drawLine(p3, pathFrom(rainTimes, rainValues, leftX, rainY), '#4ab648', 12);


drawFrame(p3, 102.5, 430, 532.5, 860);
drawXAxis(p3, 102.5, 532.5, 860, leftX, 890);
drawLeftTicks(p3, 102.5, humidityTicks, humidityMinorTicks, humidityY, 85);
drawRightTicks(p3, 430, rainTicks, rainMinorTicks, rainY, 447, function (v) { return v.toFixed(1); });

// ---------- panel 4 ----------
var p4 = document.getElementById('p4');
var dirBins = [dirSpeed0, dirSpeed2, dirSpeed4, dirSpeed6, dirSpeed8, dirSpeed10, dirSpeed12, dirSpeed14, dirSpeed16];
for (var b = 0; b < dirBins.length; b++) {
  for (var n = 0; n < dirBins[b].length; n++) {
    var dirDot = make(p4, 'circle', {cx: rightX(dirBins[b][n][0]).toFixed(2), cy: directionY(dirBins[b][n][1]).toFixed(2), r: 3.2, fill: speedColors[b]});
    
    
  }
}
drawGrid(p4, 614.3, 942, directionTicks, directionY);
drawFrame(p4, 614.3, 942, 532.5, 860);
drawXAxis(p4, 614.3, 532.5, 860, rightX, 890);
drawLeftTicks(p4, 614.3, directionTicks, [], directionY, 596, directionLabels);

// ---------- colour bar ----------
var bar = document.getElementById('colorbar');
for (var c = 0; c < speedColors.length; c++) {
  var swatchTop = 798.3 - c * 20.43;
  var swatch = make(bar, 'rect', {x: 953, y: swatchTop.toFixed(2), width: 30, height: 20.6, fill: speedColors[c]});
  
  
  var swatchLabel = make(bar, 'text', {x: 1008, y: (swatchTop + 16).toFixed(2), 'font-size': 15.5, 'text-anchor': 'middle'}, speedLabels[c]);
  
  
}
</script>
</body>
</html>
